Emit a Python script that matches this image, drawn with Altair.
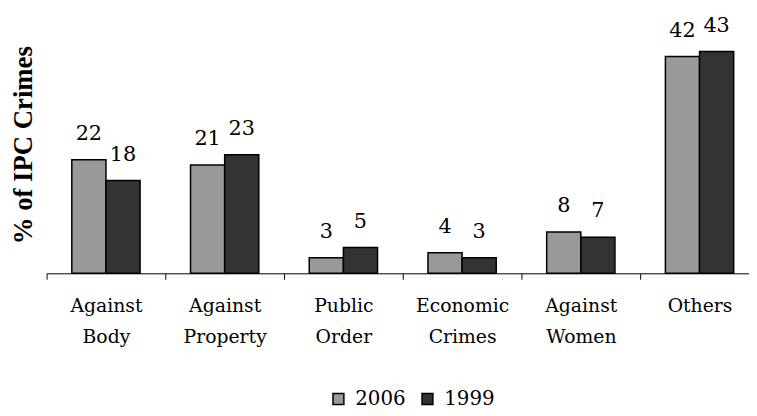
import altair as alt
import pandas as pd

categories = ["Against Body", "Against Property", "Public Order",
              "Economic Crimes", "Against Women", "Others"]
years = ["2006", "1999"]
values_2006 = [22, 21, 3, 4, 8, 42]
values_1999 = [18, 23, 5, 3, 7, 43]
colors = ["#999999", "#333333"]

rows = []
for c, a, b in zip(categories, values_2006, values_1999):
    rows.append({"category": c, "year": years[0], "value": a})
    rows.append({"category": c, "year": years[1], "value": b})
df = pd.DataFrame(rows)

FONT = "DejaVu Serif"

x = alt.X(
    "category:N", sort=categories,
    scale=alt.Scale(range=[0, 720], paddingInner=0, paddingOuter=0),
    axis=alt.Axis(
        title=None, labelAngle=0, labelExpr="split(datum.label, ' ')",
        labelFont=FONT, labelFontSize=19, labelColor="black",
        labelLineHeight=31, labelBaseline="alphabetic", labelPadding=33,
        labelAlign="center", domainColor="black", domainWidth=1,
        tickColor="black", tickSize=6, tickBand="extent", grid=False,
    ),
)
y = alt.Y(
    "value:Q",
    scale=alt.Scale(domain=[0, 51], nice=False, zero=True),
    axis=alt.Axis(
        title="% of IPC Crimes", domain=False, ticks=False, labels=False,
        grid=False, titleFont="Liberation Serif", titleFontSize=27, titleFontWeight="bold",
        titleColor="black", titleX=-23, titleY=136, titleAngle=270,
        titleAlign="center", titleBaseline="middle",
    ),
)
xoff = alt.XOffset("year:N", sort=years,
                   scale=alt.Scale(paddingInner=0, paddingOuter=0.739))
color = alt.Color(
    "year:N", sort=years,
    scale=alt.Scale(domain=years, range=colors),
    legend=alt.Legend(
        title=None, orient="none", legendX=285, legendY=383,
        direction="horizontal", symbolType="square", symbolSize=121,
        symbolStrokeColor="black", symbolStrokeWidth=1.5, symbolOpacity=1,
        labelFont=FONT, labelFontSize=20, labelColor="black",
        labelOffset=7, columnPadding=12,
    ),
)

base = alt.Chart(df).encode(x=x, y=y, xOffset=xoff)
bars = base.mark_bar(stroke="black", strokeWidth=1.5, opacity=1).encode(color=color)
labels = base.mark_text(dy=-20, baseline="alphabetic", font=FONT,
                        fontSize=21, color="black").encode(text="value:Q")

chart = alt.layer(bars, labels).properties(
    width=710, height=266,
    autosize=alt.AutoSizeParams(type="none"),
    padding={"left": 39, "top": 0, "right": 0, "bottom": 138},
    background="white",
).configure_view(stroke=None)

chart.save("out.html", embed_options={"renderer": "svg", "actions": False})
